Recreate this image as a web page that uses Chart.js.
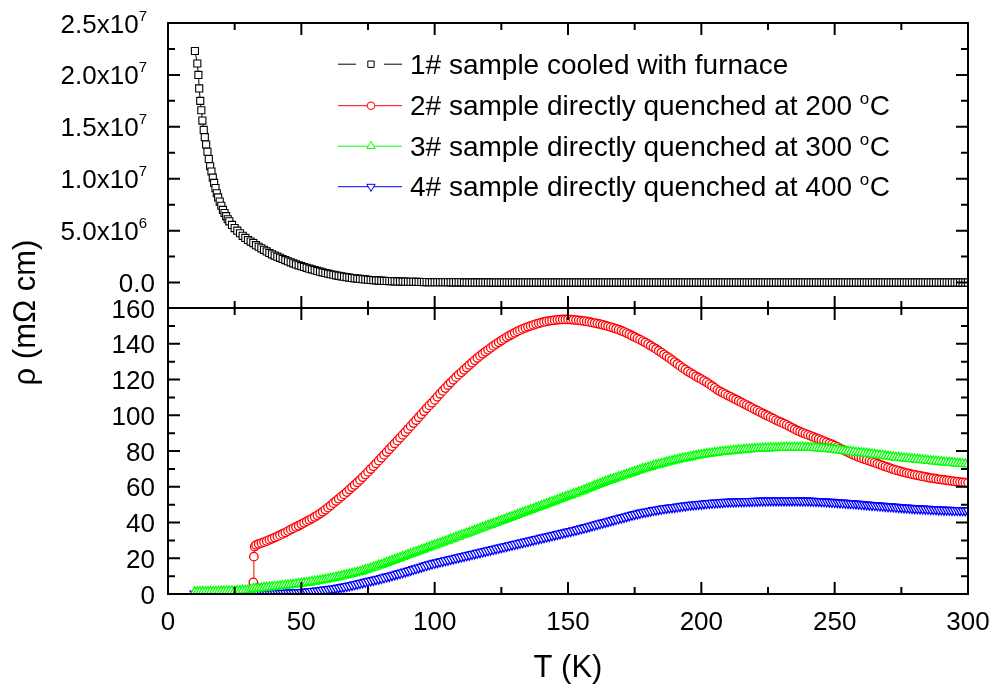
<!DOCTYPE html>
<html>
<head>
<meta charset="utf-8">
<script src="https://cdn.jsdelivr.net/npm/chart.js@4.4.1/dist/chart.umd.min.js"></script>
<style>
html,body{margin:0;padding:0;background:#fff;}
#c{display:block;}
</style>
</head>
<body>
<canvas id="c" width="991" height="691" style="width:991px;height:691px"></canvas>
<script>
// ---------------- DATA ----------------
const seriesLabels = [
  '1# sample cooled with furnace',
  '2# sample directly quenched at 200 °C',
  '3# sample directly quenched at 300 °C',
  '4# sample directly quenched at 400 °C'
];
const xTitle = 'T (K)';
const yTitle = 'ρ (mΩ cm)';

// common temperature grid (K), 10 ... 300
const tGrid = [10,11,12,13,14,15,16,17,18,19,20,21,22,23,24,25,26,27,28,29,
 30,31,32,33,34,35,36,37,38,39,40,41,42,43,44,45,46,47,48,49,
 50,51,52,53,54,55,56,57,58,59,60,61,62,63,64,65,66,67,68,69,
 70,71,72,73,74,75,76,77,78,79,80,81,82,83,84,85,86,87,88,89,
 90,91,92,93,94,95,96,97,98,99,100,101,102,103,104,105,106,107,108,109,
 110,111,112,113,114,115,116,117,118,119,120,121,122,123,124,125,126,127,128,129,
 130,131,132,133,134,135,136,137,138,139,140,141,142,143,144,145,146,147,148,149,
 150,151,152,153,154,155,156,157,158,159,160,161,162,163,164,165,166,167,168,169,
 170,171,172,173,174,175,176,177,178,179,180,181,182,183,184,185,186,187,188,189,
 190,191,192,193,194,195,196,197,198,199,200,201,202,203,204,205,206,207,208,209,
 210,211,212,213,214,215,216,217,218,219,220,221,222,223,224,225,226,227,228,229,
 230,231,232,233,234,235,236,237,238,239,240,241,242,243,244,245,246,247,248,249,
 250,251,252,253,254,255,256,257,258,259,260,261,262,263,264,265,266,267,268,269,
 270,271,272,273,274,275,276,277,278,279,280,281,282,283,284,285,286,287,288,289,
 290,291,292,293,294,295,296,297,298,299,300];

// 1# : low temperature points (K) and values (x10^6)
const t1Low = [10.1,11.0,11.4,11.7,12.1,12.5,12.9,13.4,13.8,14.3,14.8,15.3,15.8,16.3,16.8,17.3,17.8,18.3,18.8,19.4,20.0,20.6,21.2,21.8,22.4,23,24,25,26,27,28,29,30,31,32,33,34,35,36,37,38,39];
const rho1Low = [22.3,21.1,20.0,18.7,17.5,16.6,15.6,14.7,14.0,13.3,12.6,11.9,11.2,10.7,10.1,9.6,9.1,8.6,8.2,7.8,7.4,7.0,6.7,6.4,6.1,5.9,5.55,5.25,5.0,4.75,4.5,4.3,4.1,3.95,3.8,3.6,3.45,3.3,3.15,3.0,2.85,2.72];
// 1# : values on tGrid from 40 K to 300 K (x10^6)
const rho1High = [2.6,2.49,2.38,2.27,2.16,2.05,1.95,1.85,1.75,1.66,
  1.58,1.50,1.42,1.34,1.27,1.19,1.12,1.05,0.98,0.92,
  0.86,0.80,0.75,0.70,0.65,0.60,0.56,0.52,0.48,0.44,
  0.41,0.38,0.35,0.32,0.30,0.27,0.25,0.23,0.21,0.19,
  0.18,0.16,0.15,0.14,0.13,0.12,0.11,0.10,0.09,0.085,
  0.08,0.075,0.07,0.065,0.06,0.055,0.05,0.045,0.04,0.037,0.035,
  0.033,0.03,0.03,0.03,0.027,0.025,0.022,0.02,0.02,0.02,
  0.018,0.015,0.015,0.015,0.012,0.01,0.01,0.01,0.01,0.01,
  0,0,0,0,0,0,0,0,0,0,0,0,0,0,0,
  0,0,0,0,0,0,0,0,0,0,0,0,0,0,0,
  0,0,0,0,0,0,0,0,0,0,0,0,0,0,0,
  0,0,0,0,0,0,0,0,0,0,0,0,0,0,0,
  0,0,0,0,0,0,0,0,0,0,0,0,0,0,0,
  0,0,0,0,0,0,0,0,0,0,0,0,0,0,0,
  0,0,0,0,0,0,0,0,0,0,0,0,0,0,0,
  0,0,0,0,0,0,0,0,0,0,0,0,0,0,0,
  0,0,0,0,0,0,0,0,0,0,0,0,0,0,0,
  0,0,0,0,0,0,0,0,0,0,0,0,0,0,0,
  0,0,0,0,0,0,0,0,0,0,0,0,0,0,0,
  0,0,0,0,0,0,0,0,0,0,0,0,0,0,0];

// 2# : transition points, then tGrid from 33 K
const t2Low = [31.5,32.0,32.2,32.5];
const rho2Low = [1.0,6.5,20.9,26.5];
const rho2High = [27.4,28.0,28.5,29.0,29.6,30.3,30.9,31.6,32.2,32.9,
  33.6,34.4,35.2,36.0,36.7,37.5,38.2,39.0,39.8,40.6,
  41.4,42.2,43.1,44.0,45.0,46.0,47.1,48.3,49.5,50.8,
  52.0,53.3,54.5,55.7,57.0,58.4,59.7,61.0,62.4,63.8,
  65.3,66.8,68.3,69.9,71.4,73.0,74.6,76.2,77.8,79.4,
  81.0,82.6,84.2,85.8,87.4,89.0,90.6,92.3,93.9,95.6,
  97.2,98.9,100.5,102.2,103.9,105.5,107.0,108.6,110.3,112.0,
  113.6,115.2,116.8,118.3,119.8,121.3,122.7,124.0,125.4,126.7,
  128.1,129.4,130.7,132.0,133.2,134.4,135.5,136.6,137.7,138.8,
  139.8,140.8,141.8,142.7,143.6,144.5,145.3,146.1,146.9,147.6,
  148.3,148.9,149.5,150.0,150.5,151.0,151.4,151.8,152.2,152.5,
  152.8,153.0,153.2,153.4,153.5,153.6,153.6,153.6,153.5,153.4,
  153.3,153.1,152.9,152.7,152.5,152.2,151.9,151.6,151.3,151.0,
  150.6,150.2,149.8,149.3,148.9,148.4,147.9,147.3,146.7,146.0,
  145.3,144.5,143.8,143.0,142.3,141.5,140.7,139.8,138.9,138.0,
  137.1,136.1,135.1,134.0,133.0,132.0,130.9,129.8,128.7,127.6,
  126.5,125.5,124.5,123.6,122.7,121.8,121.0,120.2,119.3,118.4,
  117.4,116.4,115.3,114.2,113.4,112.6,111.8,111.0,110.3,109.5,
  108.8,108.0,107.2,106.4,105.7,104.9,104.1,103.3,102.6,101.8,
  101.1,100.3,99.6,98.8,98.1,97.3,96.6,96.0,95.3,94.6,
  93.8,93.0,92.2,91.4,90.8,90.2,89.6,89.0,88.5,87.9,
  87.3,86.7,86.1,85.5,84.9,84.3,83.7,83.0,82.3,81.5,
  80.8,80.0,79.3,78.6,77.9,77.3,76.6,76.0,75.5,75.0,
  74.5,74.0,73.5,72.9,72.4,71.8,71.3,70.8,70.3,69.8,
  69.3,68.9,68.5,68.1,67.7,67.4,67.0,66.7,66.4,66.1,
  65.8,65.5,65.2,64.9,64.7,64.5,64.2,64.0,63.8,63.6,
  63.4,63.2,63.0,62.8,62.6,62.5,62.3,62.2];

// 3# : on tGrid
const rho3 = [1.1,1.1,1.2,1.2,1.2,1.3,1.3,1.3,1.4,1.4,
  1.5,1.5,1.6,1.6,1.7,1.7,1.8,1.8,1.9,2.0,
  2.1,2.4,3.0,3.1,3.2,3.3,3.5,3.6,3.8,3.9,
  4.1,4.2,4.4,4.6,4.8,4.9,5.1,5.3,5.5,5.7,
  5.9,6.1,6.3,6.5,6.8,7.0,7.3,7.5,7.8,8.1,
  8.4,8.7,9.0,9.3,9.6,9.9,10.3,10.6,11.0,11.3,
  11.7,12.1,12.5,12.9,13.4,13.9,14.4,14.9,15.4,15.9,
  16.4,16.9,17.5,18.0,18.6,19.1,19.7,20.2,20.8,21.3,
  21.9,22.4,23.0,23.5,24.1,24.6,25.1,25.7,26.2,26.8,
  27.3,27.8,28.4,28.9,29.5,30.0,30.6,31.1,31.7,32.2,
  32.8,33.3,33.9,34.4,35.0,35.5,36.1,36.6,37.2,37.7,
  38.3,38.8,39.4,39.9,40.5,41.0,41.6,42.1,42.7,43.2,
  43.8,44.3,44.9,45.4,46.0,46.5,47.1,47.6,48.2,48.7,
  49.3,49.8,50.4,50.9,51.5,52.0,52.6,53.1,53.7,54.2,
  54.8,55.3,55.9,56.4,57.0,57.5,58.1,58.7,59.3,59.9,
  60.5,61.1,61.7,62.2,62.8,63.3,63.9,64.4,64.9,65.4,
  65.9,66.4,66.9,67.4,67.9,68.4,68.9,69.4,69.9,70.3,
  70.8,71.2,71.7,72.1,72.5,72.9,73.3,73.7,74.1,74.4,
  74.8,75.1,75.5,75.8,76.1,76.4,76.7,77.0,77.3,77.6,
  77.9,78.1,78.4,78.6,78.8,79.0,79.2,79.4,79.6,79.7,
  79.9,80.0,80.2,80.3,80.5,80.6,80.8,80.9,81.0,81.1,
  81.2,81.3,81.4,81.5,81.6,81.6,81.7,81.7,81.8,81.8,
  81.9,81.9,82.0,82.0,82.0,82.0,82.0,82.0,82.0,81.9,
  81.9,81.8,81.8,81.7,81.6,81.5,81.4,81.2,81.1,80.9,
  80.8,80.6,80.4,80.2,80.0,79.8,79.6,79.4,79.2,79.0,
  78.9,78.7,78.6,78.4,78.2,78.0,77.8,77.6,77.4,77.2,
  77.0,76.8,76.6,76.4,76.3,76.1,76.0,75.8,75.7,75.5,
  75.4,75.2,75.1,74.9,74.8,74.6,74.5,74.3,74.2,74.0,
  73.9,73.7,73.6,73.5,73.4,73.2,73.1,73.0,72.9,72.7,
  72.6];

// 4# : on tGrid
const rho4 = [0.1,0.1,0.1,0.1,0.1,0.1,0.1,0.1,0.1,0.1,
  0.1,0.1,0.1,0.1,0.1,0.1,0.1,0.1,0.1,0.1,
  0.2,0.2,0.2,0.2,0.2,0.25,0.3,0.3,0.3,0.35,
  0.4,0.45,0.5,0.55,0.6,0.65,0.7,0.75,0.8,0.9,
  1.0,1.1,1.2,1.35,1.5,1.65,1.8,2.0,2.2,2.4,
  2.6,2.8,3.0,3.25,3.5,3.75,4.0,4.3,4.6,4.95,
  5.3,5.65,6.0,6.35,6.7,7.05,7.4,7.75,8.1,8.45,
  8.8,9.2,9.6,10.0,10.4,10.8,11.2,11.6,12.0,12.45,
  12.9,13.35,13.8,14.25,14.7,15.15,15.6,16.05,16.5,16.9,
  17.3,17.65,18.0,18.35,18.7,19.05,19.4,19.75,20.1,20.45,
  20.8,21.15,21.5,21.85,22.2,22.55,22.9,23.25,23.6,23.95,
  24.3,24.65,25.0,25.35,25.7,26.05,26.4,26.75,27.1,27.45,
  27.8,28.15,28.5,28.85,29.2,29.55,29.9,30.25,30.6,30.95,
  31.3,31.65,32.0,32.35,32.7,33.05,33.4,33.75,34.1,34.45,
  34.8,35.15,35.5,35.85,36.2,36.6,37.0,37.4,37.8,38.2,
  38.6,39.0,39.4,39.8,40.2,40.6,41.0,41.4,41.8,42.2,
  42.6,43.0,43.4,43.8,44.2,44.55,44.9,45.25,45.6,45.9,
  46.2,46.5,46.8,47.05,47.3,47.55,47.8,48.0,48.2,48.4,
  48.6,48.8,49.0,49.2,49.4,49.6,49.8,49.95,50.1,50.25,
  50.4,50.55,50.7,50.8,50.9,51.0,51.1,51.2,51.3,51.4,
  51.5,51.55,51.6,51.65,51.7,51.75,51.8,51.85,51.9,51.95,
  52.0,52.05,52.1,52.1,52.1,52.15,52.2,52.2,52.2,52.2,
  52.2,52.2,52.2,52.2,52.2,52.2,52.2,52.15,52.1,52.1,
  52.1,52.05,52.0,51.95,51.9,51.8,51.7,51.6,51.5,51.4,
  51.3,51.2,51.1,51.0,50.9,50.8,50.7,50.6,50.5,50.35,
  50.2,50.1,50.0,49.85,49.7,49.6,49.5,49.35,49.2,49.1,
  49.0,48.9,48.8,48.65,48.5,48.4,48.3,48.2,48.1,48.0,
  47.9,47.8,47.7,47.65,47.6,47.5,47.4,47.35,47.3,47.2,
  47.1,47.05,47.0,46.95,46.9,46.85,46.8,46.75,46.7,46.65,
  46.6];

// ticks
const xMajorTicks = [0,50,100,150,200,250,300];
const xMinorTicks = [25,75,125,175,225,275];
const xTickLabels = ['0','50','100','150','200','250','300'];
const topMajorTicks = [0,5e6,1e7,1.5e7,2e7,2.5e7];
const topMinorTicks = [2.5e6,7.5e6,1.25e7,1.75e7,2.25e7];
const topTickLabels = ['0.0','5.0x10^6','1.0x10^7','1.5x10^7','2.0x10^7','2.5x10^7'];
const botMajorTicks = [0,20,40,60,80,100,120,140,160];
const botMinorTicks = [10,30,50,70,90,110,130,150];
const botTickLabels = ['0','20','40','60','80','100','120','140','160'];

// ---------------- BUILD ----------------
const toPts = (ts, vs, k) => ts.map((t, i) => ({x: t, y: vs[i] * (k || 1)}));
const t1 = t1Low.concat(tGrid.slice(tGrid.indexOf(40)));
const rho1 = rho1Low.concat(rho1High);
const t2 = t2Low.concat(tGrid.slice(tGrid.indexOf(33)));
const rho2 = rho2Low.concat(rho2High);

const FONT = '"Liberation Sans", Arial, Helvetica, sans-serif';

function drawMarker(ctx, style, r, rot, x, y) {
  if (Chart.helpers && Chart.helpers.drawPoint) {
    Chart.helpers.drawPoint(ctx, {pointStyle: style, radius: r, rotation: rot, borderWidth: 1}, x, y);
  }
}

const framePlugin = {
  id: 'frameTicksLegend',
  afterDraw(chart) {
    const ctx = chart.ctx;
    const xs = chart.scales.x, yT = chart.scales.yT, yB = chart.scales.yB;
    const L = xs.getPixelForValue(0), R = xs.getPixelForValue(300);
    const MAJ = 12, MIN = 7;
    ctx.save();
    ctx.strokeStyle = '#000';
    ctx.lineWidth = 2;
    const panels = [
      {s: yT, major: topMajorTicks, minor: topMinorTicks},
      {s: yB, major: botMajorTicks, minor: botMinorTicks}
    ];
    for (const p of panels) {
      const T = p.s.top, B = p.s.bottom;
      ctx.beginPath();
      const seg = (x1, y1, x2, y2) => { ctx.moveTo(x1, y1); ctx.lineTo(x2, y2); };
      xMajorTicks.forEach(v => { const px = xs.getPixelForValue(v); seg(px, T, px, T + MAJ); seg(px, B, px, B - MAJ); });
      xMinorTicks.forEach(v => { const px = xs.getPixelForValue(v); seg(px, T, px, T + MIN); seg(px, B, px, B - MIN); });
      p.major.forEach(v => { const py = p.s.getPixelForValue(v); seg(L, py, L + MAJ, py); seg(R, py, R - MAJ, py); });
      p.minor.forEach(v => { const py = p.s.getPixelForValue(v); seg(L, py, L + MIN, py); seg(R, py, R - MIN, py); });
      ctx.stroke();
      ctx.strokeRect(L, T, R - L, B - T);
    }

    // tick labels
    ctx.fillStyle = '#000';
    ctx.textBaseline = 'alphabetic';
    const mainFont = '26px ' + FONT, supFont = '15px ' + FONT;
    ctx.font = mainFont;
    ctx.textAlign = 'center';
    xMajorTicks.forEach((v, i) => ctx.fillText(xTickLabels[i], xs.getPixelForValue(v), 630));

    const drawYLabel = (label, py) => {
      const base = py + 9.5;
      if (label.indexOf('^') >= 0) {
        const [m, e] = label.split('^');
        ctx.font = supFont;
        const ws = ctx.measureText(e).width;
        ctx.font = mainFont;
        const wm = ctx.measureText(m).width;
        const right = L - 21;
        ctx.textAlign = 'left';
        ctx.fillText(m, right - ws - wm, base);
        ctx.font = supFont;
        ctx.fillText(e, right - ws, base - 12);
        ctx.font = mainFont;
      } else {
        ctx.textAlign = 'right';
        ctx.fillText(label, L - 13, base);
      }
    };
    topMajorTicks.forEach((v, i) => drawYLabel(topTickLabels[i], yT.getPixelForValue(v)));
    botMajorTicks.forEach((v, i) => drawYLabel(botTickLabels[i], yB.getPixelForValue(v)));

    // axis titles
    ctx.font = '31px ' + FONT;
    ctx.textAlign = 'center';
    ctx.fillText(xTitle, (L + R) / 2, 677);
    ctx.save();
    ctx.translate(35, (yT.top + yB.bottom) / 2 + 4);
    ctx.rotate(-Math.PI / 2);
    ctx.fillText(yTitle, 0, 0);
    ctx.restore();

    // legend
    const rows = [73.5, 115, 155.5, 196];
    const lx0 = 338, lx1 = 402, mx = 371, tx = 410;
    chart.data.datasets.forEach((ds, i) => {
      const yb = rows[i], ly = yb - 9.3;
      ctx.strokeStyle = ds.borderColor;
      ctx.lineWidth = 1;
      ctx.beginPath();
      if (i === 0) {
        ctx.moveTo(lx0, ly); ctx.lineTo(lx0 + 18, ly);
        ctx.moveTo(lx1 - 18, ly); ctx.lineTo(lx1, ly);
      } else {
        ctx.moveTo(lx0, ly); ctx.lineTo(lx1, ly);
      }
      ctx.stroke();
      ctx.fillStyle = '#fff';
      ctx.strokeStyle = ds.pointBorderColor;
      drawMarker(ctx, ds.pointStyle, i === 0 ? 4.5 : (ds.pointStyle === 'circle' ? 3.8 : 4.8), ds.pointRotation || 0, mx, ly);
      // text
      ctx.fillStyle = '#000';
      ctx.textAlign = 'left';
      ctx.font = '28px ' + FONT;
      const parts = ds.label.split('°');
      let x = tx;
      ctx.fillText(parts[0], x, yb);
      x += ctx.measureText(parts[0]).width;
      if (parts.length > 1) {
        ctx.font = '17px ' + FONT;
        ctx.fillText('o', x, yb - 11);
        x += ctx.measureText('o').width + 0.5;
        ctx.font = '28px ' + FONT;
        ctx.fillText(parts[1], x, yb);
      }
    });
    ctx.restore();
  }
};

new Chart(document.getElementById('c'), {
  type: 'scatter',
  data: {
    datasets: [
      {label: seriesLabels[0], data: toPts(t1, rho1, 1e6), yAxisID: 'yT', showLine: true,
       borderColor: '#000000', borderWidth: 1, pointStyle: 'rect', pointRadius: 5,
       pointBorderColor: '#000000', pointBackgroundColor: '#ffffff', pointBorderWidth: 1.1, order: 3, clip: 0},
      {label: seriesLabels[1], data: toPts(t2, rho2), yAxisID: 'yB', showLine: true,
       borderColor: '#ff0000', borderWidth: 1, pointStyle: 'circle', pointRadius: 4.2,
       pointBorderColor: '#ff0000', pointBackgroundColor: '#ffffff', pointBorderWidth: 1.3, order: 2, clip: 0},
      {label: seriesLabels[2], data: toPts(tGrid, rho3), yAxisID: 'yB', showLine: true,
       borderColor: '#00ff00', borderWidth: 1, pointStyle: 'triangle', pointRadius: 5.2,
       pointBorderColor: '#00ff00', pointBackgroundColor: '#ffffff', pointBorderWidth: 1.3, order: 0, clip: 0},
      {label: seriesLabels[3], data: toPts(tGrid, rho4), yAxisID: 'yB', showLine: true,
       borderColor: '#0000ff', borderWidth: 1, pointStyle: 'triangle', pointRotation: 180, pointRadius: 5.2,
       pointBorderColor: '#0000ff', pointBackgroundColor: '#ffffff', pointBorderWidth: 1.3, order: 1, clip: 0}
    ]
  },
  options: {
    responsive: false,
    animation: false,
    devicePixelRatio: 1,
    layout: {padding: {left: 168, right: 23, top: 23, bottom: 97}},
    plugins: {legend: {display: false}, tooltip: {enabled: false}},
    events: [],
    scales: {
      x: {type: 'linear', position: 'bottom', min: 0, max: 300,
          ticks: {display: false}, grid: {display: false}, border: {display: false},
          afterFit(s) { s.height = 0; }},
      yB: {type: 'linear', position: 'left', stack: 'panels', stackWeight: 286, min: 0, max: 160,
          ticks: {display: false}, grid: {display: false}, border: {display: false},
          afterFit(s) { s.width = 0; }},
      yT: {type: 'linear', position: 'left', stack: 'panels', stackWeight: 285, min: -2.45e6, max: 2.5e7,
          ticks: {display: false}, grid: {display: false}, border: {display: false},
          afterFit(s) { s.width = 0; }}
    }
  },
  plugins: [framePlugin]
});
</script>
</body>
</html>
